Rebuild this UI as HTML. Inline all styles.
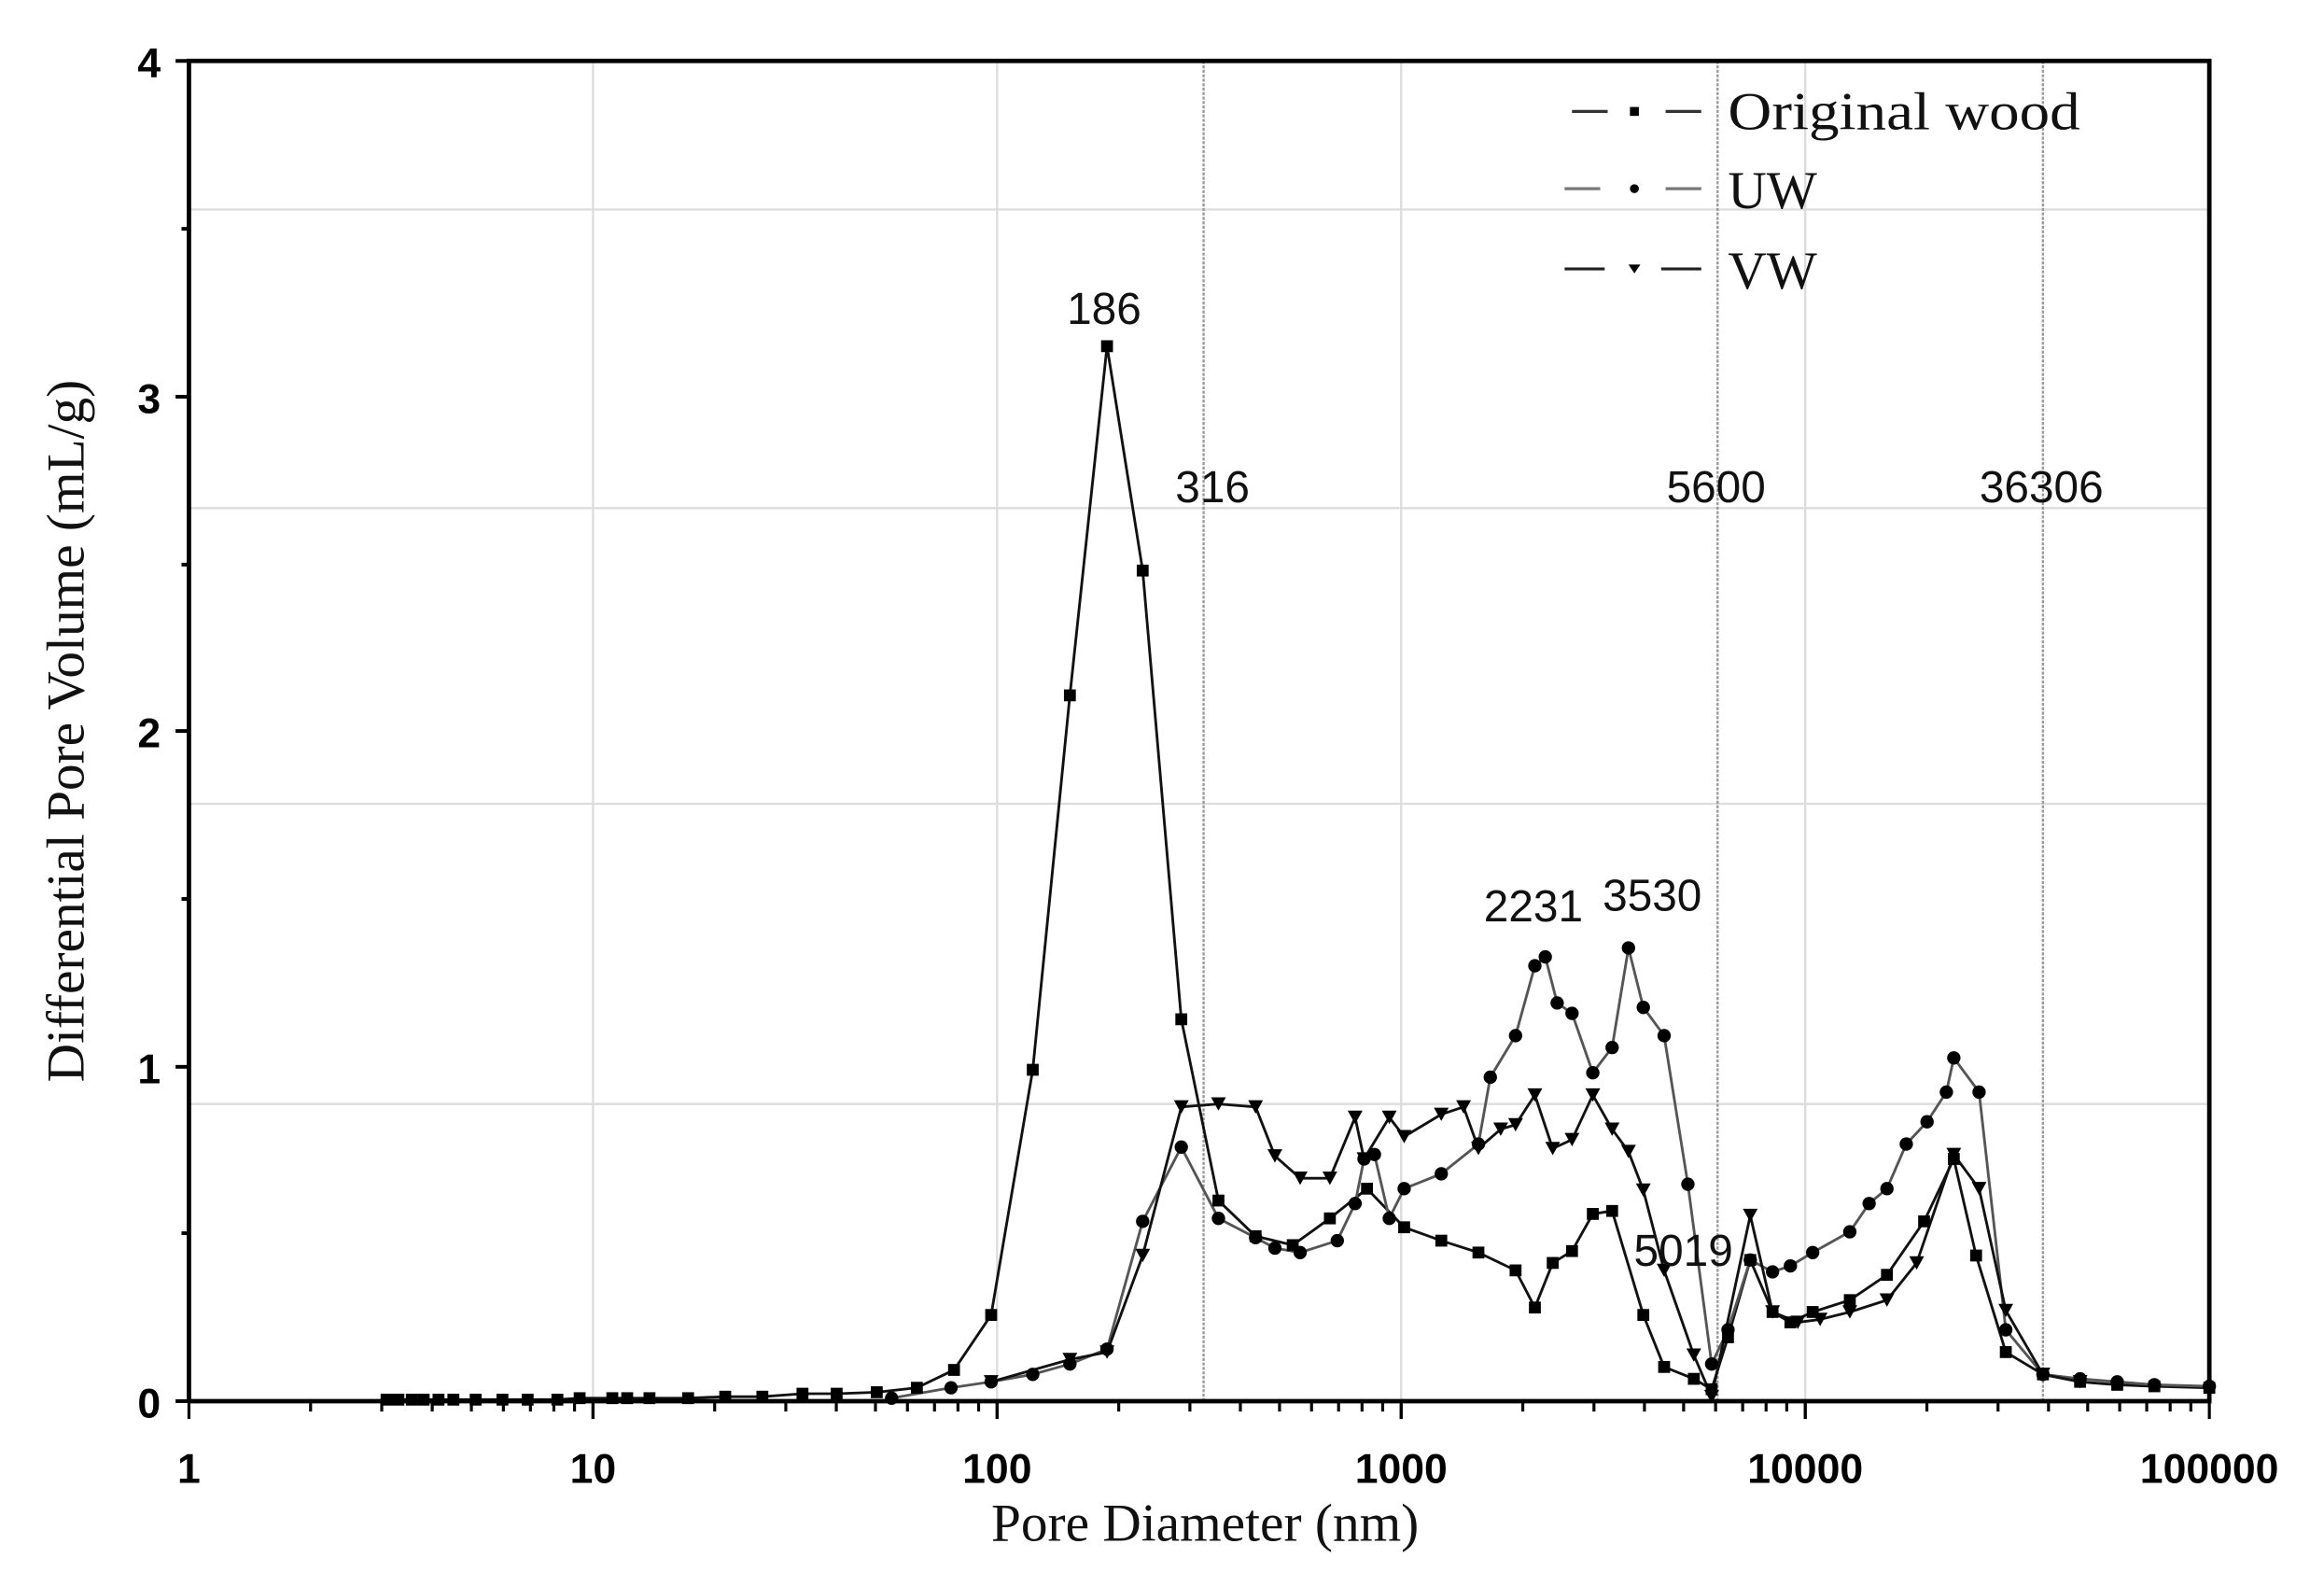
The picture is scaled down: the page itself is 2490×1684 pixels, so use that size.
<!DOCTYPE html>
<html><head><meta charset="utf-8"><style>
html,body{margin:0;padding:0;background:#fff}
svg{display:block}
.t{font-family:"Liberation Sans",sans-serif;font-size:28px;font-weight:bold;fill:#000}
.s{font-family:"Liberation Serif",serif;fill:#111}
</style></head><body>
<svg width="2490" height="1684" viewBox="0 0 1564 1058" xmlns="http://www.w3.org/2000/svg">
<rect width="1564" height="1058" fill="#fff"/>
<g stroke="#ddd" stroke-width="1.5">
<line x1="127" y1="141" x2="1487" y2="141"/><line x1="127" y1="342" x2="1487" y2="342"/>
<line x1="127" y1="541" x2="1487" y2="541"/><line x1="127" y1="743" x2="1487" y2="743"/>
<line x1="399" y1="41" x2="399" y2="943"/><line x1="671" y1="41" x2="671" y2="943"/>
<line x1="943" y1="41" x2="943" y2="943"/><line x1="1215" y1="41" x2="1215" y2="943"/>
</g>
<g stroke="#999" stroke-width="1.5" stroke-dasharray="2,1">
<line x1="810" y1="41" x2="810" y2="943"/><line x1="1156" y1="41" x2="1156" y2="943"/><line x1="1375" y1="41" x2="1375" y2="943"/>
</g>
<g fill="none" stroke="#111" stroke-width="1.8" stroke-linejoin="round">
<polyline points="260,942 268,942 277,942 285,942 295,942 305,942 320,942 338,942 355,942 375,942 390,941 412,941 422,941 437,941 463,941 488,940 513,940 540,938 563,938 590,937 617,934 642,922 667,885 695,720 720,468 745,233 769,384 795,686 820,808 845,832 870,838 895,820 920,800 945,826 970,835 995,843 1020,855 1033,880 1045,850 1058,842 1072,817 1085,815 1106,885 1120,920 1140,928 1152,935 1163,900 1178,848 1193,883 1205,890 1220,883 1245,875 1270,858 1295,822 1315,780 1330,845 1350,910 1375,925 1400,930 1425,932 1450,933 1487,934"/>
<polyline stroke="#555" points="600,941 640,934 667,930 695,925 720,918 745,908 769,822 795,772 820,820 845,833 858,840 875,843 900,835 912,810 918,780 925,777 935,820 945,800 970,790 995,770 1003,725 1020,697 1033,650 1040,644 1048,675 1058,682 1072,722 1085,705 1096,638 1106,678 1120,697 1136,797 1152,918 1163,895 1178,848 1193,856 1205,852 1220,843 1245,829 1258,810 1270,800 1283,770 1297,755 1310,735 1315,712 1332,735 1350,895 1375,925 1400,928 1425,930 1450,932 1487,933"/>
<polyline points="667,930 720,915 745,910 769,845 795,745 820,743 845,745 858,778 875,793 895,793 912,752 918,780 935,752 945,765 970,750 985,745 995,773 1010,760 1020,757 1033,737 1045,773 1058,767 1072,737 1085,760 1096,775 1106,801 1120,855 1140,912 1152,940 1178,818 1193,883 1210,890 1225,888 1245,883 1270,875 1290,850 1315,777 1332,800 1350,882 1375,925 1400,930"/>
</g>
<script>
var ns="http://www.w3.org/2000/svg",pl=document.querySelectorAll("polyline"),svg=document.querySelector("svg");
pl.forEach(function(p,i){p.getAttribute("points").trim().split(/\s+/).forEach(function(s){var a=s.split(",").map(Number),e;
if(i==0){e=document.createElementNS(ns,"rect");e.setAttribute("x",a[0]-4);e.setAttribute("y",a[1]-4);e.setAttribute("width",8);e.setAttribute("height",8);}
else if(i==1){e=document.createElementNS(ns,"circle");e.setAttribute("cx",a[0]);e.setAttribute("cy",a[1]);e.setAttribute("r",4.5);}
else{e=document.createElementNS(ns,"polygon");e.setAttribute("points",(a[0]-5)+","+(a[1]-4.5)+" "+(a[0]+5)+","+(a[1]-4.5)+" "+a[0]+","+(a[1]+4.5));}
e.setAttribute("fill","#000");svg.appendChild(e);});});
</script>
<g stroke="#000" stroke-width="3" fill="none">
<polyline points="127,943 127,41 1487,41 1487,943 127,943"/>
</g>
<g stroke="#000" stroke-width="2.5">
<line x1="118" y1="41" x2="127" y2="41"/><line x1="118" y1="267" x2="127" y2="267"/><line x1="118" y1="492" x2="127" y2="492"/><line x1="118" y1="718" x2="127" y2="718"/><line x1="118" y1="943" x2="127" y2="943"/>
<line x1="122" y1="154" x2="127" y2="154"/><line x1="122" y1="380" x2="127" y2="380"/><line x1="122" y1="605" x2="127" y2="605"/><line x1="122" y1="830" x2="127" y2="830"/>
</g>
<g stroke="#000" stroke-width="2" id="xt"></g>
<script>
var xt=document.getElementById("xt");
for(var d=0;d<5;d++)for(var k=1;k<=10;k++){var x=127+272*(d+Math.log10(k));var l=document.createElementNS(ns,"line");l.setAttribute("x1",x);l.setAttribute("x2",x);l.setAttribute("y1",943);l.setAttribute("y2",(k==1||k==10)?955:950);xt.appendChild(l);}
</script>
<g class="t" text-anchor="end">
<text x="108" y="52">4</text><text x="108" y="278">3</text><text x="108" y="503">2</text><text x="108" y="729">1</text><text x="108" y="954">0</text>
</g>
<g class="t" text-anchor="middle">
<text x="127" y="998">1</text><text x="399" y="998">10</text><text x="671" y="998">100</text><text x="943" y="998">1000</text><text x="1215" y="998">10000</text><text x="1487" y="998">100000</text>
</g>
<g font-family="Liberation Sans,sans-serif" font-size="30" fill="#111" text-anchor="middle">
<text x="743" y="218">186</text><text x="816" y="338">316</text><text x="1155" y="338">5600</text><text x="1374" y="338">36306</text>
<text x="1032" y="620">2231</text><text x="1112" y="613">3530</text><text x="1133" y="852">5019</text>
</g>
<text class="s" x="811" y="1037" font-size="36" text-anchor="middle">Pore Diameter (nm)</text>
<text class="s" font-size="36" text-anchor="middle" transform="translate(56,492) rotate(-90)">Differential Pore Volume (mL/g)</text>
<g stroke-width="2">
<line x1="1058" y1="75" x2="1082" y2="75" stroke="#333"/><line x1="1121" y1="75" x2="1145" y2="75" stroke="#333"/><rect x="1097" y="72" width="6" height="6" fill="#000"/>
<line x1="1053" y1="127" x2="1077" y2="127" stroke="#777"/><line x1="1121" y1="127" x2="1145" y2="127" stroke="#777"/><circle cx="1100" cy="127" r="3" fill="#000"/>
<line x1="1053" y1="181" x2="1080" y2="181" stroke="#222"/><line x1="1118" y1="181" x2="1145" y2="181" stroke="#222"/><polygon points="1096,178 1104,178 1100,184" fill="#000"/>
</g>
<g class="s" font-size="36">
<text x="1163" y="87" textLength="237" lengthAdjust="spacingAndGlyphs">Original wood</text>
<text x="1163" y="140">UW</text><text x="1163" y="194">VW</text>
</g>
</svg>
</body></html>
